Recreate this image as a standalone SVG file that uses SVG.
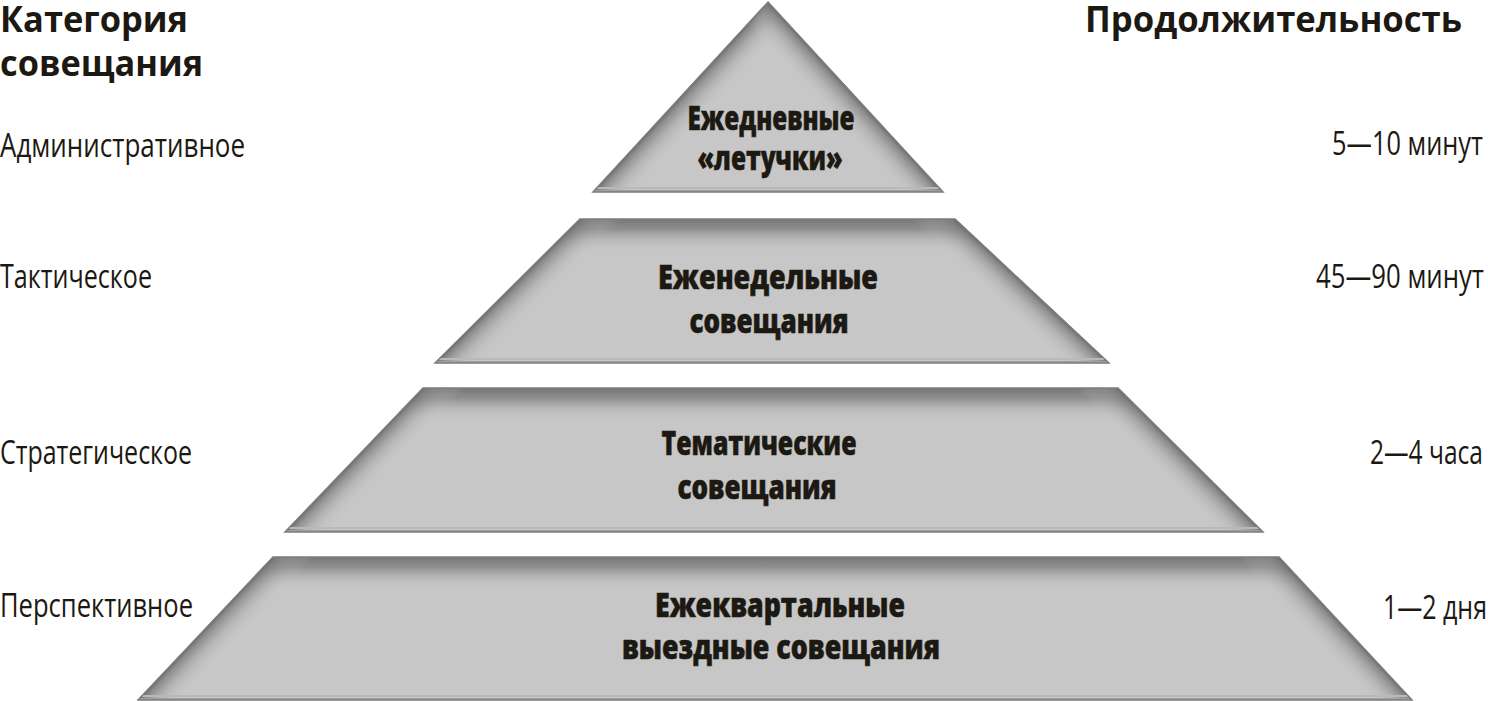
<svg xmlns="http://www.w3.org/2000/svg" xmlns:xlink="http://www.w3.org/1999/xlink" width="1488" height="701" viewBox="0 0 1488 701">
<style>
.hdr{font-family:"Open Sans","Noto Sans","Liberation Sans",sans-serif;font-weight:700;font-size:36px;fill:#1c1812}
.lbl{font-family:"Liberation Sans Narrow","Open Sans","Liberation Sans",sans-serif;font-weight:400;font-size:32px;fill:#1c1812}
.tier{font-family:"Liberation Sans Narrow","Open Sans","Liberation Sans",sans-serif;font-weight:800;font-size:34px;fill:#1c1812;stroke:#1c1812;stroke-width:0.6;text-anchor:middle}
.shape{fill:#c7c7c7}
.outline{fill:none;stroke:#7c7c7c;stroke-width:1.5}
.base{stroke:#a0a0a0;stroke-width:2}
.baseHi{stroke:#b9b9b9;stroke-width:2}
</style>
<defs>
<linearGradient id="edge">
<stop offset="0" stop-color="#6a6a6a" stop-opacity="1"/>
<stop offset="0.1" stop-color="#7c7c7c" stop-opacity="0.85"/>
<stop offset="0.5" stop-color="#9c9c9c" stop-opacity="0.4"/>
<stop offset="1" stop-color="#c7c7c7" stop-opacity="0"/>
</linearGradient>
<linearGradient id="topg">
<stop offset="0" stop-color="#767676" stop-opacity="1"/>
<stop offset="0.3" stop-color="#858585" stop-opacity="0.85"/>
<stop offset="0.65" stop-color="#a8a8a8" stop-opacity="0.4"/>
<stop offset="1" stop-color="#c7c7c7" stop-opacity="0"/>
</linearGradient>

<linearGradient id="g1l" xlink:href="#edge" gradientUnits="userSpaceOnUse" x1="680.5" y1="97" x2="703.2" y2="117.9"/>
<linearGradient id="g1r" xlink:href="#edge" gradientUnits="userSpaceOnUse" x1="855.5" y1="97" x2="832.8" y2="117.9"/>

<linearGradient id="g2l" xlink:href="#edge" gradientUnits="userSpaceOnUse" x1="507.5" y1="291" x2="529.2" y2="312.8"/>
<linearGradient id="g2r" xlink:href="#edge" gradientUnits="userSpaceOnUse" x1="1032" y1="291" x2="1011" y2="313.5"/>
<linearGradient id="g2t" xlink:href="#topg" gradientUnits="userSpaceOnUse" x1="0" y1="219" x2="0" y2="253"/>

<linearGradient id="g3l" xlink:href="#edge" gradientUnits="userSpaceOnUse" x1="354" y1="460" x2="376.3" y2="481.3"/>
<linearGradient id="g3r" xlink:href="#edge" gradientUnits="userSpaceOnUse" x1="1190.5" y1="460" x2="1168.8" y2="481.8"/>
<linearGradient id="g3t" xlink:href="#topg" gradientUnits="userSpaceOnUse" x1="0" y1="388" x2="0" y2="422"/>

<linearGradient id="g4l" xlink:href="#edge" gradientUnits="userSpaceOnUse" x1="205.5" y1="628.5" x2="227.9" y2="649.6"/>
<linearGradient id="g4r" xlink:href="#edge" gradientUnits="userSpaceOnUse" x1="1345.5" y1="628.5" x2="1323" y2="649.5"/>
<linearGradient id="g4t" xlink:href="#topg" gradientUnits="userSpaceOnUse" x1="0" y1="557" x2="0" y2="591"/>

<clipPath id="c1"><path d="M768,2 L943,192 L593,192 Z"/></clipPath>
<clipPath id="c2"><path d="M580,219 L955,219 L1109,363 L435,363 Z"/></clipPath>
<clipPath id="c3"><path d="M423,388 L1118,388 L1263,532 L285,532 Z"/></clipPath>
<clipPath id="c4"><path d="M273,557 L1279,557 L1412,700 L138,700 Z"/></clipPath>
</defs>
<rect width="1488" height="701" fill="#ffffff"/>

<g id="headers">
<text class="hdr" x="0" y="32" textLength="188" lengthAdjust="spacingAndGlyphs">Категория</text>
<text class="hdr" x="0" y="76" textLength="203" lengthAdjust="spacingAndGlyphs">совещания</text>
<text class="hdr" x="1085" y="32" textLength="377" lengthAdjust="spacingAndGlyphs">Продолжительность</text>
</g>

<g id="tier1">
<g clip-path="url(#c1)">
<rect class="shape" x="590" y="0" width="356" height="195"/>
<rect x="590" y="0" width="356" height="195" fill="url(#g1l)"/>
<rect x="590" y="0" width="356" height="195" fill="url(#g1r)"/>
<line class="baseHi" x1="590" y1="188" x2="946" y2="188"/>
<line class="base" x1="590" y1="191" x2="946" y2="191"/>
</g>
<path class="outline" d="M768,2 L943,192 L593,192 Z"/>
<text class="tier" x="771" y="130" textLength="167" lengthAdjust="spacingAndGlyphs">Ежедневные</text>
<text class="tier" x="770" y="170" textLength="145" lengthAdjust="spacingAndGlyphs">«летучки»</text>
</g>

<g id="tier2">
<g clip-path="url(#c2)">
<rect class="shape" x="430" y="215" width="685" height="152"/>
<rect x="430" y="215" width="685" height="152" fill="url(#g2t)"/>
<rect x="430" y="215" width="685" height="152" fill="url(#g2l)"/>
<rect x="430" y="215" width="685" height="152" fill="url(#g2r)"/>
<line class="baseHi" x1="430" y1="359" x2="1115" y2="359"/>
<line class="base" x1="430" y1="362" x2="1115" y2="362"/>
</g>
<path class="outline" d="M580,219 L955,219 L1109,363 L435,363 Z"/>
<text class="tier" x="768" y="289" textLength="220" lengthAdjust="spacingAndGlyphs">Еженедельные</text>
<text class="tier" x="769" y="333" textLength="159" lengthAdjust="spacingAndGlyphs">совещания</text>
</g>

<g id="tier3">
<g clip-path="url(#c3)">
<rect class="shape" x="280" y="384" width="990" height="152"/>
<rect x="280" y="384" width="990" height="152" fill="url(#g3t)"/>
<rect x="280" y="384" width="990" height="152" fill="url(#g3l)"/>
<rect x="280" y="384" width="990" height="152" fill="url(#g3r)"/>
<line class="baseHi" x1="280" y1="528" x2="1270" y2="528"/>
<line class="base" x1="280" y1="531" x2="1270" y2="531"/>
</g>
<path class="outline" d="M423,388 L1118,388 L1263,532 L285,532 Z"/>
<text class="tier" x="759" y="455" textLength="195" lengthAdjust="spacingAndGlyphs">Тематические</text>
<text class="tier" x="757" y="499" textLength="159" lengthAdjust="spacingAndGlyphs">совещания</text>
</g>

<g id="tier4">
<g clip-path="url(#c4)">
<rect class="shape" x="130" y="553" width="1290" height="150"/>
<rect x="130" y="553" width="1290" height="150" fill="url(#g4t)"/>
<rect x="130" y="553" width="1290" height="150" fill="url(#g4l)"/>
<rect x="130" y="553" width="1290" height="150" fill="url(#g4r)"/>
<line class="baseHi" x1="130" y1="696" x2="1420" y2="696"/>
<line class="base" x1="130" y1="699" x2="1420" y2="699"/>
</g>
<path class="outline" d="M273,557 L1279,557 L1412,700 L138,700 Z"/>
<text class="tier" x="780" y="617" textLength="250" lengthAdjust="spacingAndGlyphs">Ежеквартальные</text>
<text class="tier" x="781" y="659" textLength="318" lengthAdjust="spacingAndGlyphs">выездные совещания</text>
</g>

<g id="categories">
<text class="lbl" x="0" y="157" textLength="245" lengthAdjust="spacingAndGlyphs">Административное</text>
<text class="lbl" x="0" y="288" textLength="152" lengthAdjust="spacingAndGlyphs">Тактическое</text>
<text class="lbl" x="0" y="464" textLength="192" lengthAdjust="spacingAndGlyphs">Стратегическое</text>
<text class="lbl" x="0" y="617" textLength="193" lengthAdjust="spacingAndGlyphs">Перспективное</text>
</g>

<g id="durations">
<text class="lbl" x="1332" y="155" textLength="151" lengthAdjust="spacingAndGlyphs">5—10 минут</text>
<text class="lbl" x="1316" y="288" textLength="168" lengthAdjust="spacingAndGlyphs">45—90 минут</text>
<text class="lbl" x="1370" y="464" textLength="113" lengthAdjust="spacingAndGlyphs">2—4 часа</text>
<text class="lbl" x="1383" y="619" textLength="104" lengthAdjust="spacingAndGlyphs">1—2 дня</text>
</g>

<g id="connectors"/>
</svg>
